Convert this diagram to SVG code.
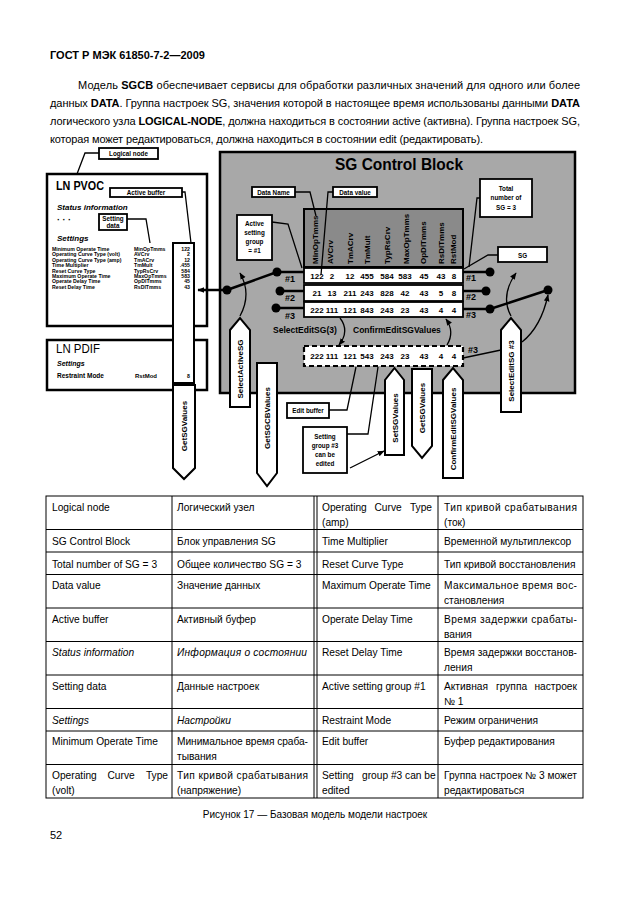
<svg xmlns="http://www.w3.org/2000/svg" width="630" height="913" viewBox="0 0 630 913">
<style>
text{font-family:"Liberation Sans",Arial,sans-serif;fill:#000}
.p{font-size:11px}
.b{font-weight:bold}
.t{font-size:10.2px}
.it{font-style:italic}
.lbl{fill:#fff;stroke:#000;stroke-width:1.8}
.lt{font-size:6.3px;font-weight:bold;text-anchor:middle}
.pent{fill:#fff;stroke:#000;stroke-width:2}
.pt{font-size:8px;font-weight:bold;text-anchor:middle}
.ln{fill:none;stroke:#000;stroke-width:1.3}
.thick{fill:none;stroke:#000;stroke-width:2.5}
.v{font-size:8px;font-weight:bold;text-anchor:middle}
.h{font-size:8px;font-weight:bold}
.s{font-size:5.2px;font-weight:bold}
.grid{stroke:#000;stroke-width:1;fill:none}
.num{font-size:9px;font-weight:bold}
</style>
<defs>
<marker id="ah" viewBox="0 0 10 10" refX="9" refY="5" markerWidth="7" markerHeight="7" markerUnits="userSpaceOnUse" orient="auto"><path d="M0,1 L10,5 L0,9 z" fill="#000"/></marker>
</defs>
<rect x="0" y="0" width="630" height="913" fill="#fff"/>

<g id="header">
<text class="p b" x="50" y="59">ГОСТ Р МЭК 61850-7-2—2009</text>
<text class="p" x="78" y="89" textLength="502" lengthAdjust="spacing">Модель <tspan class="b">SGCB</tspan> обеспечивает сервисы для обработки различных значений для одного или более</text>
<text class="p" x="50" y="107" textLength="530" lengthAdjust="spacing">данных <tspan class="b">DATA</tspan>. Группа настроек SG, значения которой в настоящее время использованы данными <tspan class="b">DATA</tspan></text>
<text class="p" x="50" y="125" textLength="530" lengthAdjust="spacing">логического узла <tspan class="b">LOGICAL-NODE</tspan>, должна находиться в состоянии active (активна). Группа настроек SG,</text>
<text class="p" x="50" y="143" textLength="433" lengthAdjust="spacing">которая может редактироваться, должна находиться в состоянии edit (редактировать).</text>
</g>

<!-- SG Control Block -->
<g id="sgcb">
<rect x="220" y="152" width="355" height="241" fill="#a8a8a8" stroke="#000" stroke-width="2.5"/>
<text x="335" y="170" font-size="16" font-weight="bold" textLength="128" lengthAdjust="spacingAndGlyphs">SG Control Block</text>
<rect x="304" y="209" width="159" height="58" fill="#8a8a8a" stroke="#000" stroke-width="2"/>
<g class="h">
<text transform="translate(318,264) rotate(-90)">MinOpTmms</text>
<text transform="translate(333,264) rotate(-90)">AVCrv</text>
<text transform="translate(353,264) rotate(-90)">TmACrv</text>
<text transform="translate(370,264) rotate(-90)">TmMult</text>
<text transform="translate(390,264) rotate(-90)">TypRsCrv</text>
<text transform="translate(409,264) rotate(-90)">MaxOpTmms</text>
<text transform="translate(426,264) rotate(-90)">OpDlTmms</text>
<text transform="translate(444,264) rotate(-90)">RsDlTmms</text>
<text transform="translate(456,264) rotate(-90)">RstMod</text>
</g>
<rect x="304" y="268" width="159" height="15" fill="#fff" stroke="#000" stroke-width="1.8"/>
<rect x="304" y="285" width="159" height="16" fill="#fff" stroke="#000" stroke-width="1.8"/>
<rect x="304" y="302" width="159" height="15" fill="#fff" stroke="#000" stroke-width="1.8"/>
<g class="v">
<text x="317" y="279">122</text><text x="332" y="279">2</text><text x="350" y="279">12</text><text x="367" y="279">455</text><text x="387" y="279">584</text><text x="405" y="279">583</text><text x="424" y="279">45</text><text x="441" y="279">43</text><text x="454" y="279">8</text>
<text x="317" y="296">21</text><text x="332" y="296">13</text><text x="350" y="296">211</text><text x="367" y="296">243</text><text x="387" y="296">828</text><text x="405" y="296">42</text><text x="424" y="296">43</text><text x="441" y="296">5</text><text x="454" y="296">8</text>
<text x="317" y="313">222</text><text x="332" y="313">111</text><text x="350" y="313">121</text><text x="367" y="313">843</text><text x="387" y="313">243</text><text x="405" y="313">23</text><text x="424" y="313">43</text><text x="441" y="313">4</text><text x="454" y="313">4</text>
</g>
<text class="num" x="285" y="282">#1</text>
<text class="num" x="285" y="301">#2</text>
<text class="num" x="285" y="319">#3</text>
<text class="num" x="466" y="281">#1</text>
<text class="num" x="466" y="300">#2</text>
<text class="num" x="466" y="318">#3</text>
<text class="num" x="468" y="353">#3</text>
<text x="273" y="333" font-size="8.5" font-weight="bold">SelectEditSG(3)</text>
<text x="353" y="333" font-size="8.5" font-weight="bold">ConfirmEditSGValues</text>
</g>

<g id="edit-buffer">
<rect x="304" y="346" width="159" height="20" fill="#fff" stroke="#000" stroke-width="2.2" stroke-dasharray="5,3"/>
<g class="v">
<text x="317" y="359">222</text><text x="332" y="359">111</text><text x="350" y="359">121</text><text x="367" y="359">543</text><text x="387" y="359">243</text><text x="405" y="359">23</text><text x="424" y="359">43</text><text x="441" y="359">4</text><text x="454" y="359">4</text>
</g>
</g>

<!-- LN boxes -->
<g id="ln-pvoc">
<rect x="47" y="174" width="160" height="152" fill="#fff" stroke="#000" stroke-width="2.5"/>
<text x="56" y="190" font-size="13" font-weight="bold" textLength="48" lengthAdjust="spacingAndGlyphs">LN PVOC</text>
<text x="57" y="210" font-size="8" font-weight="bold" font-style="italic">Status information</text>
<text x="57" y="223" font-size="9" font-weight="bold">· · ·</text>
<text x="57" y="241" font-size="8" font-weight="bold" font-style="italic">Settings</text>
<g class="s">
<text x="52" y="251">Minimum Operate Time</text>
<text x="52" y="256.4">Operating Curve Type (volt)</text>
<text x="52" y="261.8">Operating Curve Type (amp)</text>
<text x="52" y="267.2">Time Multiplier</text>
<text x="52" y="272.6">Reset Curve Type</text>
<text x="52" y="278">Maximum Operate Time</text>
<text x="52" y="283.4">Operate Delay Time</text>
<text x="52" y="288.8">Reset Delay Time</text>
<text x="134" y="251">MinOpTmms</text>
<text x="134" y="256.4">AVCrv</text>
<text x="134" y="261.8">TmACrv</text>
<text x="134" y="267.2">TmMult</text>
<text x="134" y="272.6">TypRsCrv</text>
<text x="134" y="278">MaxOpTmms</text>
<text x="134" y="283.4">OpDlTmms</text>
<text x="134" y="288.8">RsDlTmms</text>
</g>
</g>

<g id="ln-pdif">
<rect x="47" y="340" width="160" height="50" fill="#fff" stroke="#000" stroke-width="2.5"/>
<text x="56" y="353" font-size="12" textLength="44" lengthAdjust="spacingAndGlyphs">LN PDIF</text>
<text x="57" y="366" font-size="7" font-weight="bold" font-style="italic">Settings</text>
<text x="57" y="378" font-size="6.5" font-weight="bold">Restraint Mode</text>
<text x="135" y="378" font-size="6" font-weight="bold">RstMod</text>
</g>

<g id="active-buffer">
<rect x="173" y="243" width="21" height="140" fill="#fff" stroke="#000" stroke-width="2"/>
<g class="s" text-anchor="end" font-size="5.6">
<text x="190" y="251">122</text>
<text x="190" y="256.4">2</text>
<text x="190" y="261.8">12</text>
<text x="190" y="267.2">.455</text>
<text x="190" y="272.6">584</text>
<text x="190" y="278">583</text>
<text x="190" y="283.4">45</text>
<text x="190" y="288.8">43</text>
<text x="190" y="378">8</text>
</g>
</g>

<!-- label boxes -->
<g id="lbl-logical-node"><rect class="lbl" x="99" y="148" width="59" height="11"/><text class="lt" x="128.5" y="156">Logical node</text></g>
<g id="lbl-active-buffer"><rect class="lbl" x="110" y="188" width="72" height="9"/><text class="lt" x="146" y="195">Active buffer</text></g>
<g id="lbl-setting-data"><rect class="lbl" x="99" y="214" width="28" height="16"/><text class="lt" x="113" y="221">Setting</text><text class="lt" x="113" y="228">data</text></g>
<g id="lbl-data-name"><rect class="lbl" x="252" y="187" width="43" height="10"/><text class="lt" x="273.5" y="194.5">Data Name</text></g>
<g id="lbl-data-value"><rect class="lbl" x="333" y="187" width="44" height="10"/><text class="lt" x="355" y="194.5">Data value</text></g>
<g id="lbl-active-sg"><rect class="lbl" x="237" y="215" width="35" height="45"/><text class="lt" x="254.5" y="226">Active</text><text class="lt" x="254.5" y="235">setting</text><text class="lt" x="254.5" y="244">group</text><text class="lt" x="254.5" y="253">= #1</text></g>
<g id="lbl-total"><rect class="lbl" x="480" y="179" width="52" height="38"/><text class="lt" x="506" y="191">Total</text><text class="lt" x="506" y="200">number of</text><text class="lt" x="506" y="210" font-size="7.5">SG = 3</text></g>
<g id="lbl-sg"><rect class="lbl" x="498" y="247" width="49" height="15"/><text class="lt" x="522.5" y="257.5" font-size="8">SG</text></g>
<g id="lbl-edit-buffer"><rect class="lbl" x="287" y="403" width="42" height="15"/><text class="lt" x="308" y="413">Edit buffer</text></g>
<g id="lbl-sg3"><rect class="lbl" x="303" y="427" width="44" height="46"/><text class="lt" x="325" y="439">Setting</text><text class="lt" x="325" y="448">group #3</text><text class="lt" x="325" y="457">can be</text><text class="lt" x="325" y="466">edited</text></g>

<!-- service pentagons -->
<g id="svc-select-active"><polygon class="pent" points="230,330 240,318 250,330 250,407 230,407"/><text class="pt" transform="translate(243,369) rotate(-90)">SelectActiveSG</text></g>
<g id="svc-get-sgcb"><polygon class="pent" points="257,363 277,363 277,473 267,486 257,473"/><text class="pt" transform="translate(270,418) rotate(-90)">GetSGCBValues</text></g>
<g id="svc-get-sg-left"><polygon class="pent" points="173,385 195,385 195,468 184,479 173,468"/><text class="pt" transform="translate(187,426) rotate(-90)">GetSGValues</text></g>
<g id="svc-set-sg"><polygon class="pent" points="385,380 394.5,368 404,380 404,455 385,455"/><text class="pt" transform="translate(397.5,418) rotate(-90)">SetSGValues</text></g>
<g id="svc-get-sg-right"><polygon class="pent" points="412,369 432,369 432,446 422,458 412,446"/><text class="pt" transform="translate(425,408) rotate(-90)">GetSGValues</text></g>
<g id="svc-confirm"><polygon class="pent" points="443,380 453,368 463,380 463,478 443,478"/><text class="pt" transform="translate(456,429) rotate(-90)">ConfirmEditSGValues</text></g>
<g id="svc-select-edit"><polygon class="pent" points="501,330 511,318 521,330 521,412 501,412"/><text class="pt" transform="translate(514,371) rotate(-90)">SelectEditSG #3</text></g>

<!-- connectors -->
<g id="connectors">
<polyline class="ln" points="99,153 85,153 77,174"/>
<polyline class="ln" points="182,192 185,192 191,243"/>
<polyline class="ln" points="127,219 146,219 150,243"/>
<polyline class="ln" points="295,192 310,192 316,216"/>
<polyline class="ln" points="333,192 328,192 321,275"/>
<polyline class="ln" points="272,222 288,224 302,268"/>
<polyline class="ln" points="480,198 477,198 469,267"/>
<polyline class="ln" points="498,255 488,255 464,269"/>
<polyline class="ln" points="329,410 347,410 356,367"/>
<polyline class="ln" points="347,434 368,434 378,367"/>
<line class="ln" x1="350" y1="468" x2="384" y2="451" marker-end="url(#ah)"/>
<line class="ln" x1="463" y1="358" x2="501" y2="350"/>
<line class="thick" x1="227" y1="290" x2="198" y2="290" marker-end="url(#ah)"/>
<line class="thick" x1="227" y1="290" x2="277" y2="272"/>
<line class="thick" x1="277" y1="272" x2="304" y2="272"/>
<line class="thick" x1="280" y1="291" x2="304" y2="291"/>
<line class="thick" x1="276" y1="308" x2="304" y2="308"/>
<line class="thick" x1="463" y1="272" x2="490" y2="272"/>
<line class="thick" x1="463" y1="291" x2="486" y2="291"/>
<line class="thick" x1="463" y1="309" x2="490" y2="309"/>
<line class="thick" x1="490" y1="309" x2="548" y2="290"/>
<path class="ln" stroke-width="1.6" d="M240,316 Q252,294 240,273" marker-end="url(#ah)"/>
<path class="ln" stroke-width="1.6" d="M511,316 Q500,296 516,273" marker-end="url(#ah)"/>
<path class="ln" stroke-width="1.6" d="M522,342 Q541,327 548,295" marker-end="url(#ah)"/>
<path class="ln" stroke-width="1.4" d="M340,318 Q350,331 339,345" marker-end="url(#ah)"/>
<path class="ln" stroke-width="1.4" d="M447,345 Q455,332 446,319" marker-end="url(#ah)"/>
<g fill="#000">
<circle cx="227" cy="290" r="4.5"/><circle cx="277" cy="272" r="4.5"/><circle cx="280" cy="291" r="4.5"/><circle cx="276" cy="308" r="4.5"/>
<circle cx="490" cy="272" r="4.5"/><circle cx="486" cy="291" r="4.5"/><circle cx="490" cy="309" r="4.5"/><circle cx="548" cy="290" r="4.5"/>
</g>
</g>

<!-- legend table -->
<g id="legend-table">
<g class="grid">
<rect x="46" y="496" width="537" height="302"/>
<line x1="172" y1="496" x2="172" y2="798"/>
<line x1="314" y1="496" x2="314" y2="798"/>
<line x1="317" y1="496" x2="317" y2="798"/>
<line x1="438" y1="496" x2="438" y2="798"/>
<line x1="46" y1="529.5" x2="583" y2="529.5"/>
<line x1="46" y1="552" x2="583" y2="552"/>
<line x1="46" y1="574.5" x2="583" y2="574.5"/>
<line x1="46" y1="608" x2="583" y2="608"/>
<line x1="46" y1="641.5" x2="583" y2="641.5"/>
<line x1="46" y1="675" x2="583" y2="675"/>
<line x1="46" y1="708.5" x2="583" y2="708.5"/>
<line x1="46" y1="731" x2="583" y2="731"/>
<line x1="46" y1="764.5" x2="583" y2="764.5"/>
</g>
<g class="t">
<text x="52" y="511">Logical node</text>
<text x="177" y="511">Логический узел</text>
<text x="322" y="511">Operating</text><text x="374.5" y="511">Curve</text><text x="432" y="511" text-anchor="end">Type</text>
<text x="322" y="526">(amp)</text>
<text x="444" y="511" textLength="133" lengthAdjust="spacing">Тип кривой срабатывания</text>
<text x="444" y="526">(ток)</text>

<text x="52" y="545">SG Control Block</text>
<text x="177" y="545">Блок управления SG</text>
<text x="322" y="545">Time Multiplier</text>
<text x="444" y="545">Временной мультиплексор</text>

<text x="52" y="567.5">Total number of SG = 3</text>
<text x="177" y="567.5">Общее количество SG = 3</text>
<text x="322" y="567.5">Reset Curve Type</text>
<text x="444" y="567.5">Тип кривой восстановления</text>

<text x="52" y="589">Data value</text>
<text x="177" y="589">Значение данных</text>
<text x="322" y="589">Maximum Operate Time</text>
<text x="444" y="589" textLength="133" lengthAdjust="spacing">Максимальное время вос-</text>
<text x="444" y="604">становления</text>

<text x="52" y="622.5">Active buffer</text>
<text x="177" y="622.5">Активный буфер</text>
<text x="322" y="622.5">Operate Delay Time</text>
<text x="444" y="622.5" textLength="133" lengthAdjust="spacing">Время задержки срабаты-</text>
<text x="444" y="637.5">вания</text>

<text x="52" y="656" class="it">Status information</text>
<text x="177" y="656" class="it" textLength="130" lengthAdjust="spacing">Информация о состоянии</text>
<text x="322" y="656">Reset Delay Time</text>
<text x="444" y="656" textLength="133" lengthAdjust="spacing">Время задержки восстанов-</text>
<text x="444" y="671">ления</text>

<text x="52" y="689.5">Setting data</text>
<text x="177" y="689.5">Данные настроек</text>
<text x="322" y="689.5">Active setting group #1</text>
<text x="444" y="689.5">Активная</text><text x="496" y="689.5">группа</text><text x="577" y="689.5" text-anchor="end">настроек</text>
<text x="444" y="704.5">№ 1</text>

<text x="52" y="723.5" class="it">Settings</text>
<text x="177" y="723.5" class="it">Настройки</text>
<text x="322" y="723.5">Restraint Mode</text>
<text x="444" y="723.5">Режим ограничения</text>

<text x="52" y="745">Minimum Operate Time</text>
<text x="177" y="745" textLength="131" lengthAdjust="spacing">Минимальное время сраба-</text>
<text x="177" y="760">тывания</text>
<text x="322" y="745">Edit buffer</text>
<text x="444" y="745">Буфер редактирования</text>

<text x="52" y="778.5">Operating</text><text x="107.5" y="778.5">Curve</text><text x="168" y="778.5" text-anchor="end">Type</text>
<text x="52" y="793.5">(volt)</text>
<text x="177" y="778.5" textLength="131" lengthAdjust="spacing">Тип кривой срабатывания</text>
<text x="177" y="793.5">(напряжение)</text>
<text x="322" y="778.5">Setting</text><text x="362" y="778.5">group #3 can be</text>
<text x="322" y="793.5">edited</text>
<text x="444" y="778.5" textLength="133" lengthAdjust="spacing">Группа настроек № 3 может</text>
<text x="444" y="793.5">редактироваться</text>
</g>
</g>

<g id="footer">
<text x="315" y="818" font-size="10" text-anchor="middle">Рисунок 17 — Базовая модель модели настроек</text>
<text x="50" y="839" font-size="11">52</text>
</g>
</svg>
